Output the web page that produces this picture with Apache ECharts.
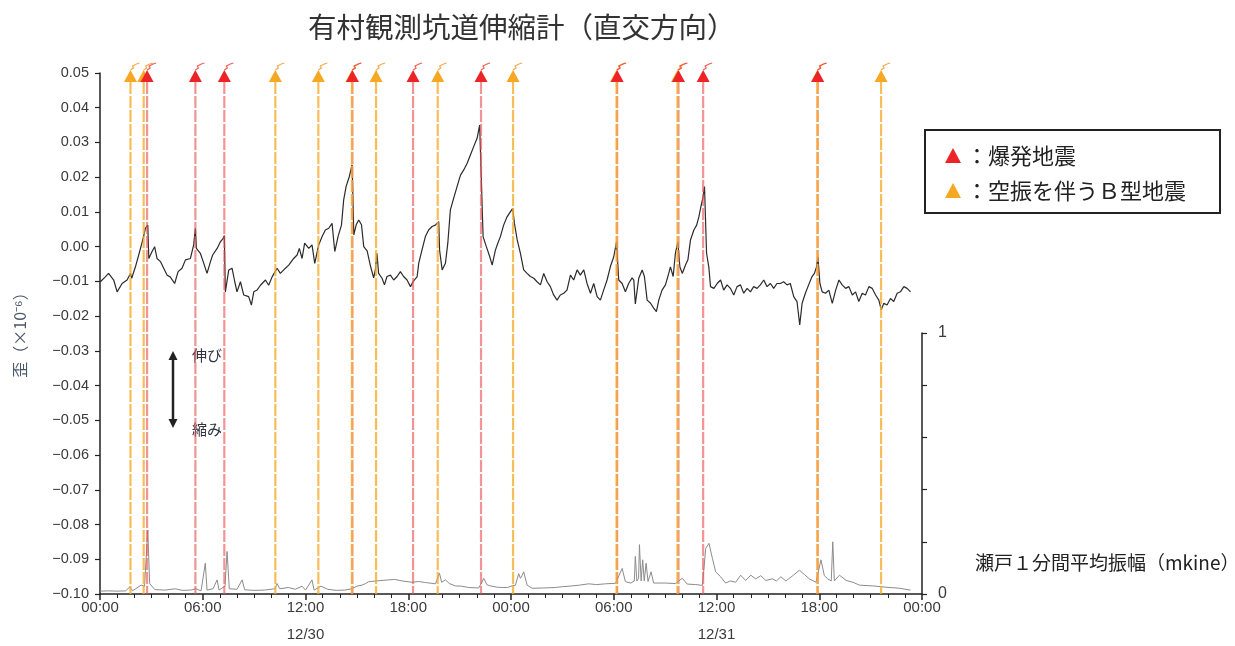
<!DOCTYPE html>
<html><head><meta charset="utf-8">
<script src="https://cdn.jsdelivr.net/npm/echarts@6/dist/echarts.min.js"></script>
<style>html,body{margin:0;padding:0;background:#fff}#c{width:1235px;height:646px}</style>
</head><body><div id="c"></div>
<script>
// ---- data (hours from 12/30 00:00) ----
const xTicks = [0, 6, 12, 18, 24, 30, 36, 42, 48];
const xTickLabels = ['00:00', '06:00', '12:00\n12/30', '18:00', '00:00', '06:00', '12:00\n12/31', '18:00', '00:00'];
const ampTickLabels = { 0: '0', 1: '1' };

const strainHours = [0.02,0.31,0.5,0.8,1.0,1.29,1.58,1.78,1.85,2.07,2.26,2.42,2.55,2.65,2.79,2.85,3.04,3.19,3.33,3.53,3.72,3.92,4.1,4.36,4.56,4.79,4.99,5.28,5.47,5.57,5.63,5.86,6.06,6.25,6.45,6.58,6.84,7.03,7.19,7.26,7.32,7.52,7.71,7.87,8.0,8.2,8.39,8.68,8.84,8.98,9.17,9.37,9.66,9.85,10.05,10.34,10.53,10.83,11.02,11.31,11.51,11.64,11.8,11.95,12.19,12.38,12.54,12.77,12.97,13.16,13.36,13.55,13.71,13.9,14.1,14.23,14.37,14.56,14.72,14.82,14.96,15.11,15.27,15.4,15.6,15.79,15.98,16.08,16.17,16.27,16.47,16.61,16.76,16.96,17.15,17.35,17.54,17.73,17.93,18.13,18.28,18.52,18.61,18.8,19.0,19.19,19.39,19.58,19.78,19.83,19.98,20.17,20.31,20.46,20.65,20.85,21.05,21.24,21.44,21.63,21.82,22.02,22.17,22.25,22.37,22.56,22.76,22.9,23.09,23.23,23.38,23.57,23.77,23.97,24.1,24.2,24.36,24.55,24.74,24.94,25.13,25.33,25.52,25.72,25.91,26.11,26.3,26.49,26.69,26.88,27.08,27.27,27.47,27.66,27.86,28.05,28.25,28.44,28.64,28.83,29.03,29.22,29.41,29.61,29.8,30.0,30.16,30.29,30.49,30.68,30.87,31.07,31.17,31.26,31.46,31.66,31.79,31.95,32.15,32.33,32.49,32.63,32.82,33.02,33.21,33.31,33.47,33.6,33.74,33.86,34.0,34.19,34.33,34.48,34.68,34.84,34.97,35.11,35.22,35.3,35.42,35.55,35.65,35.85,36.04,36.24,36.42,36.62,36.81,37.01,37.2,37.4,37.59,37.79,37.98,38.17,38.37,38.56,38.76,38.95,39.15,39.34,39.53,39.73,39.92,40.12,40.31,40.51,40.7,40.86,41.0,41.19,41.38,41.58,41.72,41.84,41.92,42.04,42.17,42.37,42.56,42.76,42.96,43.15,43.34,43.54,43.73,43.93,44.12,44.31,44.51,44.7,44.9,45.09,45.29,45.48,45.62,45.77,45.96,46.16,46.35,46.55,46.74,46.94,47.13,47.33];
const strainValues = [-0.0101,-0.0087,-0.0077,-0.0096,-0.013,-0.0106,-0.0096,-0.0077,-0.0091,-0.0058,-0.0024,0.0005,0.003,0.0053,0.0062,-0.0034,-0.0014,0.0,-0.0034,-0.0043,-0.0062,-0.0082,-0.0087,-0.0106,-0.0072,-0.0062,-0.0038,-0.0034,0.0005,0.0053,-0.0005,-0.0019,-0.0048,-0.0077,-0.0043,-0.0024,-0.0005,0.0014,0.0024,0.0032,-0.013,-0.0067,-0.0062,-0.0101,-0.013,-0.0101,-0.0139,-0.0144,-0.0168,-0.013,-0.0125,-0.0111,-0.0096,-0.0111,-0.0087,-0.0062,-0.0077,-0.0062,-0.0053,-0.0034,-0.0024,-0.0005,-0.0034,0.001,-0.0005,0.0005,-0.0048,0.0005,0.0029,0.0048,0.0053,0.0067,-0.0014,0.0029,0.0062,0.0135,0.0173,0.0202,0.0236,0.0034,0.0063,0.0077,0.0063,0.0,-0.0012,-0.0055,-0.009,-0.0067,-0.0019,-0.0077,-0.0091,-0.011,-0.0086,-0.0082,-0.0096,-0.0086,-0.0072,-0.0086,-0.0096,-0.0115,-0.0101,-0.0086,-0.0048,-0.001,0.0029,0.0048,0.0058,0.0062,0.0072,-0.001,-0.0067,-0.0048,0.001,0.0106,0.0139,0.0173,0.0206,0.0221,0.024,0.0264,0.0288,0.0312,0.035,0.0355,0.0029,0.0,-0.0029,-0.0053,-0.001,0.001,0.0029,0.0062,0.0086,0.0101,0.011,0.0067,0.002,-0.0019,-0.0067,-0.0077,-0.0086,-0.0091,-0.0101,-0.011,-0.0077,-0.0101,-0.0115,-0.0139,-0.0154,-0.0139,-0.0134,-0.0125,-0.0082,-0.0096,-0.0067,-0.0082,-0.0067,-0.0106,-0.0134,-0.0106,-0.0144,-0.0154,-0.0125,-0.0096,-0.0058,-0.0029,0.0014,-0.0096,-0.0106,-0.013,-0.0106,-0.009,-0.0096,-0.0165,-0.0091,-0.0067,-0.0086,-0.0154,-0.0163,-0.0177,-0.0187,-0.0154,-0.0125,-0.011,-0.0077,-0.0058,-0.0086,-0.0019,0.0014,-0.0058,-0.0077,-0.0053,-0.0038,0.0019,0.0048,0.0062,0.0086,0.012,0.0144,0.0173,-0.0019,-0.0058,-0.0115,-0.012,-0.0106,-0.0096,-0.0125,-0.011,-0.012,-0.0139,-0.0115,-0.011,-0.0134,-0.012,-0.013,-0.0115,-0.012,-0.011,-0.0096,-0.0115,-0.0106,-0.012,-0.0106,-0.0106,-0.0101,-0.011,-0.0106,-0.0144,-0.0158,-0.0225,-0.0163,-0.0134,-0.011,-0.0086,-0.0077,-0.0058,-0.0029,-0.0106,-0.013,-0.0134,-0.0125,-0.0163,-0.0125,-0.0096,-0.011,-0.012,-0.0115,-0.0139,-0.013,-0.0158,-0.0134,-0.0139,-0.0115,-0.012,-0.0139,-0.0154,-0.0182,-0.0163,-0.0168,-0.0149,-0.0158,-0.0134,-0.013,-0.0115,-0.012,-0.013];

const ampHours = [0.02,0.5,1.0,1.5,1.75,1.9,2.4,2.6,2.79,2.9,3.2,3.8,4.4,4.8,5.3,5.6,5.9,6.15,6.25,6.6,6.84,6.95,7.3,7.42,7.55,8.0,8.3,8.45,9.0,9.6,10.2,10.34,10.5,11.0,11.4,11.8,12.0,12.38,12.5,12.9,13.3,13.8,14.3,14.7,15.0,15.3,15.5,15.69,16.27,16.86,17.2,17.64,18.22,18.6,19.0,19.59,19.82,19.95,20.17,20.4,20.75,21.1,21.53,22.11,22.3,22.41,22.6,22.8,23.2,23.48,23.8,24.06,24.26,24.45,24.55,24.65,24.74,24.94,25.23,25.9,26.59,27.0,27.57,28.0,28.54,29.0,29.51,30.1,30.3,30.49,30.68,31.0,31.2,31.26,31.35,31.45,31.5,31.6,31.69,31.78,31.89,32.0,32.18,32.33,33.02,33.6,34.0,34.29,34.79,35.18,35.37,35.56,35.76,35.95,36.24,36.53,36.8,37.12,37.41,37.7,38.0,38.29,38.58,38.88,39.27,39.5,39.76,40.05,40.45,40.84,41.13,41.42,41.81,42.1,42.3,42.49,42.7,42.79,42.88,43.18,43.57,43.96,44.35,45.13,45.9,46.68,47.33];
const ampValues = [0.011,0.012,0.011,0.012,0.028,0.012,0.034,0.03,0.245,0.04,0.017,0.015,0.02,0.014,0.015,0.02,0.012,0.118,0.015,0.02,0.054,0.015,0.03,0.163,0.02,0.018,0.054,0.016,0.014,0.015,0.02,0.04,0.02,0.025,0.018,0.03,0.015,0.054,0.015,0.03,0.018,0.014,0.015,0.02,0.03,0.034,0.04,0.047,0.051,0.054,0.056,0.05,0.045,0.048,0.044,0.039,0.08,0.045,0.054,0.04,0.031,0.03,0.025,0.023,0.045,0.06,0.035,0.031,0.026,0.025,0.025,0.031,0.034,0.078,0.06,0.072,0.085,0.034,0.022,0.023,0.025,0.028,0.031,0.034,0.039,0.036,0.039,0.041,0.07,0.098,0.047,0.042,0.05,0.144,0.05,0.06,0.189,0.05,0.131,0.05,0.118,0.048,0.085,0.042,0.042,0.04,0.06,0.038,0.036,0.033,0.175,0.194,0.137,0.085,0.066,0.042,0.05,0.045,0.072,0.052,0.072,0.058,0.07,0.052,0.058,0.05,0.066,0.05,0.07,0.091,0.075,0.058,0.045,0.131,0.07,0.058,0.05,0.2,0.05,0.072,0.052,0.045,0.034,0.031,0.026,0.022,0.015];

// event times
const explosionHours = [2.75, 5.57, 7.26, 14.74, 18.28, 22.25, 30.2, 33.78, 35.22, 41.91];
const bTypeHours = [1.78, 2.55, 10.24, 12.75, 14.71, 16.12, 19.72, 24.12, 30.16, 33.72, 41.89, 45.61];

// ---- styling ----
const Y_MAX = 0.05, Y_MIN = -0.10;
const RED = '#ec2327', ORANGE = '#f6a823';
const RED_LINE = 'rgba(238,80,80,0.62)', ORANGE_LINE = 'rgba(246,170,40,0.78)';
const LABEL_FONT = '"Liberation Sans", Arial, sans-serif';
const JP_FONT = '"Noto Sans CJK JP", sans-serif';
const TXT = '#3a3a3a';

function fmtStrain(v) {
  const r = Math.round(v * 100) / 100;
  if (Math.abs(r) < 1e-9) return '0.00';
  return (r < 0 ? '\u2212' : '') + Math.abs(r).toFixed(2);
}
function fmtX(v) {
  const i = xTicks.indexOf(Math.round(v));
  return i >= 0 ? xTickLabels[i] : '';
}
function lineRenderer(color) {
  return function (params, api) {
    const t = api.value(0);
    const top = api.coord([t, Y_MAX]);
    const bot = api.coord([t, Y_MIN]);
    return { type: 'line', shape: { x1: top[0], y1: top[1] + 9, x2: bot[0], y2: bot[1] },
      style: { stroke: color, lineWidth: 2.2, lineDash: [12, 2] } };
  };
}
function markerRenderer(fill, plume) {
  return function (params, api) {
    const p = api.coord([api.value(0), Y_MAX]);
    const x = p[0], y = p[1];
    return { type: 'group', children: [
      { type: 'polyline', shape: { points: [[x, y - 3], [x + 3, y - 5], [x + 2, y - 7], [x + 6, y - 9], [x + 9, y - 10]] },
        style: { stroke: plume, lineWidth: 1.3, fill: null } },
      { type: 'polygon', shape: { points: [[x - 6.5, y + 9], [x + 6.5, y + 9], [x, y - 3]] }, style: { fill: fill } }
    ] };
  };
}
const evData = arr => arr.map(t => [t, Y_MAX]);

const chart = echarts.init(document.getElementById('c'), null, { renderer: 'canvas' });
chart.setOption({
  animation: false,
  backgroundColor: '#fff',
  title: {
    text: '有村観測坑道伸縮計（直交方向）', left: 303, top: 8,
    textStyle: { fontFamily: JP_FONT, fontSize: 28.5, fontWeight: 'normal', color: '#333' }
  },
  grid: [
    { left: 100, right: 313, top: 73, bottom: 52, containLabel: false, outerBoundsMode: 'none' },
    { left: 100, right: 313, top: 333, bottom: 52, containLabel: false, outerBoundsMode: 'none' }
  ],
  xAxis: [
    {
      type: 'value', gridIndex: 0, min: 0, max: 48, interval: 6,
      axisLine: { show: true, onZero: false, lineStyle: { color: '#222', width: 1.5 } },
      axisTick: { show: true, length: 6, lineStyle: { color: '#222', width: 1.5 } },
      minorTick: { show: true, splitNumber: 6, length: 4, lineStyle: { color: '#222', width: 1 } },
      splitLine: { show: false },
      axisLabel: { formatter: fmtX, fontFamily: LABEL_FONT, fontSize: 15, color: TXT, lineHeight: 27, margin: 0, showMinLabel: true, showMaxLabel: true }
    },
    { type: 'value', gridIndex: 1, min: 0, max: 48, show: false, axisLine: { onZero: false } }
  ],
  yAxis: [
    {
      type: 'value', gridIndex: 0, min: Y_MIN, max: Y_MAX, interval: 0.01,
      axisLine: { show: true, onZero: false, lineStyle: { color: '#222', width: 1.5 } },
      axisTick: { show: true, length: 5, lineStyle: { color: '#222', width: 1.2 } },
      splitLine: { show: false },
      axisLabel: { formatter: fmtStrain, fontFamily: LABEL_FONT, fontSize: 14.5, color: TXT, margin: 11, showMinLabel: true, showMaxLabel: true }
    },
    {
      type: 'value', gridIndex: 1, position: 'right', min: 0, max: 1, interval: 0.2,
      axisLine: { show: true, onZero: false, lineStyle: { color: '#222', width: 1.5 } },
      axisTick: { show: true, length: 5, lineStyle: { color: '#222', width: 1.2 } },
      splitLine: { show: false },
      axisLabel: { formatter: v => ampTickLabels[Math.round(v * 10) / 10] || '', fontFamily: LABEL_FONT, fontSize: 16, color: TXT, margin: 16, showMinLabel: true, showMaxLabel: true }
    }
  ],
  series: [
    { type: 'line', name: 'strain', xAxisIndex: 0, yAxisIndex: 0, showSymbol: false, symbol: 'none',
      data: strainHours.map((t, i) => [t, strainValues[i]]),
      lineStyle: { color: '#2b2b2b', width: 1.2 }, z: 2 },
    { type: 'line', name: 'amplitude', xAxisIndex: 1, yAxisIndex: 1, showSymbol: false, symbol: 'none',
      data: ampHours.map((t, i) => [t, ampValues[i]]),
      lineStyle: { color: '#8c8c8c', width: 1 }, z: 2 },
    { type: 'custom', name: '爆発地震線', xAxisIndex: 0, yAxisIndex: 0, clip: false, z: 3,
      data: evData(explosionHours), renderItem: lineRenderer(RED_LINE) },
    { type: 'custom', name: 'B型線', xAxisIndex: 0, yAxisIndex: 0, clip: false, z: 3,
      data: evData(bTypeHours), renderItem: lineRenderer(ORANGE_LINE) },
    { type: 'custom', name: '空振を伴うＢ型地震', xAxisIndex: 0, yAxisIndex: 0, clip: false, z: 4,
      data: evData(bTypeHours), renderItem: markerRenderer(ORANGE, 'rgba(246,150,40,0.8)') },
    { type: 'custom', name: '爆発地震', xAxisIndex: 0, yAxisIndex: 0, clip: false, z: 5,
      data: evData(explosionHours), renderItem: markerRenderer(RED, 'rgba(236,60,50,0.8)') }
  ],
  graphic: [
    { type: 'text', x: 20, y: 331, rotation: Math.PI / 2,
      style: { text: '歪（×10⁻⁶）', fontFamily: JP_FONT, fontSize: 16, fill: '#4b5868', textAlign: 'center', textVerticalAlign: 'middle' } },
    { type: 'text', x: 975, y: 563,
      style: { text: '瀬戸１分間平均振幅（mkine）', fontFamily: JP_FONT, fontSize: 19, fill: '#222', textAlign: 'left', textVerticalAlign: 'middle' } },
    { type: 'rect', shape: { x: 925, y: 130, width: 295, height: 83 }, style: { fill: '#fff', stroke: '#222', lineWidth: 2 }, z: 10 },
    { type: 'polygon', shape: { points: [[945, 163], [961, 163], [953, 148]] }, style: { fill: RED }, z: 11 },
    { type: 'text', x: 966, y: 156, z: 11,
      style: { text: '：爆発地震', fontFamily: JP_FONT, fontSize: 22, fill: '#222', textAlign: 'left', textVerticalAlign: 'middle' } },
    { type: 'polygon', shape: { points: [[945, 198], [961, 198], [953, 183]] }, style: { fill: ORANGE }, z: 11 },
    { type: 'text', x: 966, y: 191, z: 11,
      style: { text: '：空振を伴うＢ型地震', fontFamily: JP_FONT, fontSize: 22, fill: '#222', textAlign: 'left', textVerticalAlign: 'middle' } },
    { type: 'line', shape: { x1: 173, y1: 358, x2: 173, y2: 421 }, style: { stroke: '#222', lineWidth: 2.5 } },
    { type: 'polygon', shape: { points: [[168.5, 360], [177.5, 360], [173, 351]] }, style: { fill: '#222' } },
    { type: 'polygon', shape: { points: [[168.5, 419], [177.5, 419], [173, 428]] }, style: { fill: '#222' } },
    { type: 'text', x: 192, y: 355,
      style: { text: '伸び', fontFamily: JP_FONT, fontSize: 15, fill: '#2f3440', textAlign: 'left', textVerticalAlign: 'middle' } },
    { type: 'text', x: 192, y: 429,
      style: { text: '縮み', fontFamily: JP_FONT, fontSize: 15, fill: '#2f3440', textAlign: 'left', textVerticalAlign: 'middle' } }
  ]
});
</script>
</body></html>
